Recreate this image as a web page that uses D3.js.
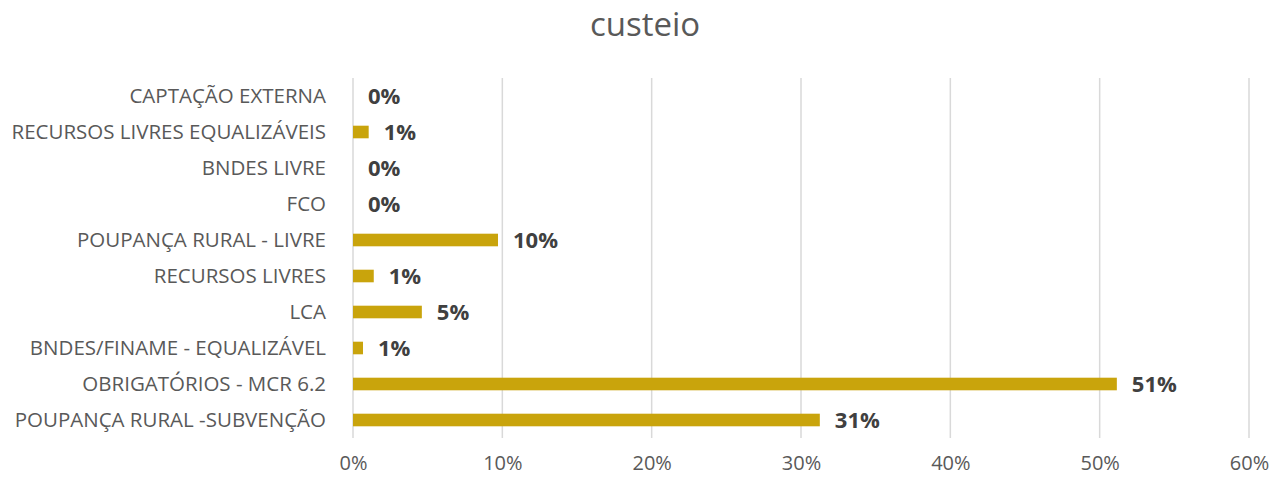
<!DOCTYPE html>
<html>
<head>
<meta charset="utf-8">
<script src="https://cdn.jsdelivr.net/npm/d3@7"></script>
<style>
	body { margin: 0; background: #fff; }
	svg { display: block; font-family: "Open Sans", sans-serif; }
</style>
</head>
<body>
<div id="chart"></div>
<script>
// categories, top to bottom as shown
const categories = [
	'CAPTAÇÃO EXTERNA',
	'RECURSOS LIVRES EQUALIZÁVEIS',
	'BNDES LIVRE',
	'FCO',
	'POUPANÇA RURAL - LIVRE',
	'RECURSOS LIVRES',
	'LCA',
	'BNDES/FINAME - EQUALIZÁVEL',
	'OBRIGATÓRIOS - MCR 6.2',
	'POUPANÇA RURAL -SUBVENÇÃO'
]
// share of each source (fraction)
const shares = [0.000, 0.0105, 0.000, 0.000, 0.0971, 0.0139, 0.0461, 0.0067, 0.5115, 0.3126]
const xTicks = [0, 0.1, 0.2, 0.3, 0.4, 0.5, 0.6]

const width = 1272
const height = 478
const margin = {top: 78, right: 23, bottom: 40, left: 353}

const svg = d3.select('#chart').append('svg')
	.attr('width', width)
	.attr('height', height)

// title
svg.append('text')
	.attr('x', 645)
	.attr('y', 36)
	.attr('text-anchor', 'middle')
	.attr('font-size', 33)
	.attr('fill', '#595959')
	.text('custeio')

const x = d3.scaleLinear()
	.domain([0, 0.6])
	.range([margin.left, width - margin.right])

const y = d3.scaleBand()
	.domain(categories)
	.range([margin.top, height - margin.bottom])
	.paddingInner(0.65)
	.paddingOuter(0.325)

// gridlines
svg.append('g')
	.selectAll('line')
	.data(xTicks)
	.join('line')
	.attr('x1', d => x(d))
	.attr('x2', d => x(d))
	.attr('y1', margin.top)
	.attr('y2', height - margin.bottom)
	.attr('stroke', '#d9d9d9')
	.attr('stroke-width', 1.5)

// x axis labels
const xAxis = d3.axisBottom(x)
	.tickValues(xTicks)
	.tickFormat(d3.format('.0%'))
	.tickSize(0)
	.tickPadding(18)

svg.append('g')
	.attr('transform', `translate(0,${height - margin.bottom})`)
	.call(xAxis)
	.call(g => g.select('.domain').remove())
	.call(g => g.selectAll('text')
		.attr('font-size', 20)
		.attr('font-family', '"Open Sans", sans-serif')
		.attr('fill', '#595959'))

// y axis labels
const yAxis = d3.axisLeft(y)
	.tickSize(0)
	.tickPadding(27)

svg.append('g')
	.attr('transform', `translate(${margin.left},0)`)
	.call(yAxis)
	.call(g => g.select('.domain').remove())
	.call(g => g.selectAll('text')
		.attr('font-size', 20.5)
		.attr('font-family', '"Open Sans", sans-serif')
		.attr('fill', '#595959'))

// bars
svg.append('g')
	.selectAll('rect')
	.data(categories)
	.join('rect')
	.attr('x', x(0))
	.attr('y', d => y(d))
	.attr('width', (d, i) => x(shares[i]) - x(0))
	.attr('height', y.bandwidth())
	.attr('fill', '#C9A40C')

// value labels
svg.append('g')
	.selectAll('text')
	.data(categories)
	.join('text')
	.attr('x', (d, i) => x(shares[i]) + 15)
	.attr('y', d => y(d) + y.bandwidth() / 2)
	.attr('dy', '0.36em')
	.attr('font-size', 22)
	.attr('font-weight', 'bold')
	.attr('fill', '#404040')
	.text((d, i) => d3.format('.0%')(shares[i]))
</script>
</body>
</html>
